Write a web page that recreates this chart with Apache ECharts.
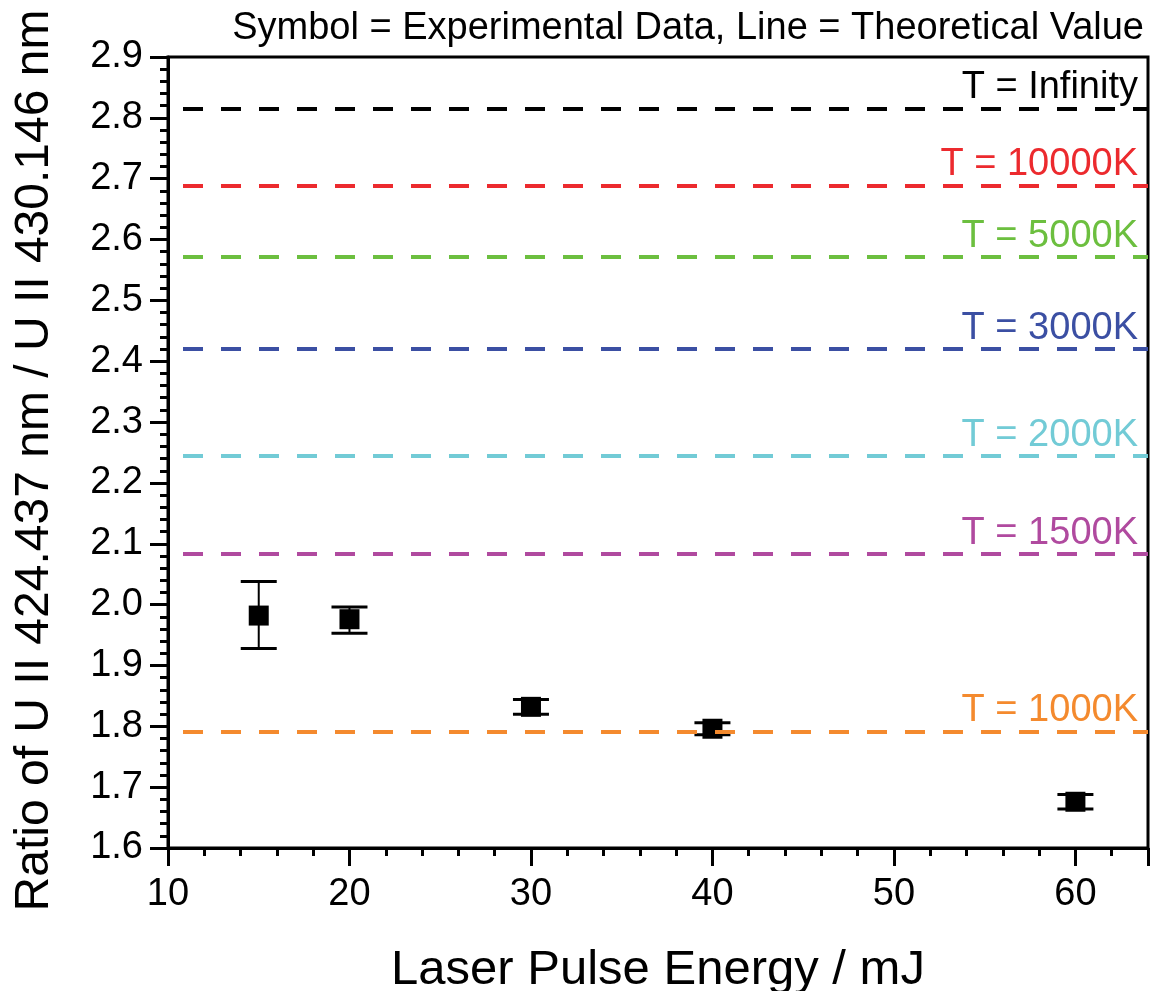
<!DOCTYPE html>
<html>
<head>
<meta charset="utf-8">
<script src="https://cdn.jsdelivr.net/npm/echarts@6/dist/echarts.min.js"></script>
<style>html,body{margin:0;padding:0;background:#fff;}#c{width:1150px;height:991px;}</style>
</head>
<body>
<div id="c"></div>
<script>
var energies = [15, 20, 30, 40, 60];
var ratio = [1.982, 1.976, 1.832, 1.796, 1.676];
var errLow = [1.928, 1.953, 1.820, 1.786, 1.664];
var errHigh = [2.038, 1.996, 1.844, 1.806, 1.688];

var theoryLabels = ['T = Infinity', 'T = 10000K', 'T = 5000K', 'T = 3000K', 'T = 2000K', 'T = 1500K', 'T = 1000K'];
var theoryValues = [2.815, 2.689, 2.571, 2.420, 2.244, 2.083, 1.791];
var theoryColors = ['#000000', '#ec2a2e', '#6cbf3f', '#3b4fa3', '#72cbd6', '#b04a9f', '#f48a2e'];

var titleText = 'Symbol = Experimental Data, Line = Theoretical Value';
var xName = 'Laser Pulse Energy / mJ';
var yName = 'Ratio of U II 424.437 nm / U II 430.146 nm';

var FONT = '"Liberation Sans", Arial, sans-serif';
var chart = echarts.init(document.getElementById('c'), null, {renderer: 'canvas'});

var points = energies.map(function (e, i) { return [e, ratio[i]]; });
var bars = energies.map(function (e, i) { return [e, errLow[i], errHigh[i]]; });

var markData = theoryValues.map(function (v, i) {
  return {
    yAxis: v,
    lineStyle: {color: theoryColors[i]},
    label: {formatter: theoryLabels[i], color: theoryColors[i]}
  };
});

chart.setOption({
  animation: false,
  backgroundColor: '#fff',
  title: {
    text: titleText,
    right: 1,
    top: 5,
    textStyle: {fontFamily: FONT, fontSize: 38, fontWeight: 'normal', color: '#000'}
  },
  grid: {left: 168, right: 2, top: 57, bottom: 143, outerBoundsMode: 'none', containLabel: false,
    show: true, borderColor: '#000', borderWidth: 3, backgroundColor: 'transparent'},
  xAxis: {
    type: 'value', min: 10, max: 64, interval: 10,
    name: xName, nameLocation: 'middle', nameGap: 98,
    nameTextStyle: {fontFamily: FONT, fontSize: 49, color: '#000'},
    axisLine: {show: true, onZero: false, lineStyle: {color: '#000', width: 3}},
    axisTick: {show: true, inside: false, length: 18, lineStyle: {color: '#000', width: 3}},
    minorTick: {show: true, splitNumber: 5, length: 8, lineStyle: {color: '#000', width: 3}},
    axisLabel: {fontFamily: FONT, fontSize: 38, color: '#000', margin: 28, showMaxLabel: false},
    splitLine: {show: false}
  },
  yAxis: {
    type: 'value', min: 1.6, max: 2.9, interval: 0.1,
    name: yName, nameLocation: 'middle', nameGap: 109, nameRotate: 90,
    nameTextStyle: {fontFamily: FONT, fontSize: 48, color: '#000', padding: [0, 16, 0, 0]},
    axisLine: {show: true, onZero: false, lineStyle: {color: '#000', width: 3}},
    axisTick: {show: true, inside: false, length: 18, lineStyle: {color: '#000', width: 3}},
    minorTick: {show: true, splitNumber: 5, length: 8, lineStyle: {color: '#000', width: 3}},
    axisLabel: {fontFamily: FONT, fontSize: 38, color: '#000', margin: 25,
      formatter: function (v) { return v.toFixed(1); }},
    splitLine: {show: false}
  },
  series: [
    {
      type: 'custom',
      name: 'err',
      silent: true,
      z: 3,
      data: bars,
      renderItem: function (params, api) {
        var x = api.value(0);
        var lo = api.coord([x, api.value(1)]);
        var hi = api.coord([x, api.value(2)]);
        var hw = 18;
        var st = {stroke: '#000', lineWidth: 3};
        return {
          type: 'group',
          children: [
            {type: 'line', shape: {x1: lo[0], y1: lo[1], x2: hi[0], y2: hi[1]}, style: {stroke: '#000', lineWidth: 2}},
            {type: 'line', shape: {x1: lo[0] - hw, y1: lo[1], x2: lo[0] + hw, y2: lo[1]}, style: st},
            {type: 'line', shape: {x1: hi[0] - hw, y1: hi[1], x2: hi[0] + hw, y2: hi[1]}, style: st}
          ]
        };
      },
      markLine: {
        silent: true,
        symbol: 'none',
        precision: 3,
        lineStyle: {type: [20, 18], dashOffset: 23, width: 4},
        label: {
          show: true, position: 'insideEndTop', distance: [10, 2],
          fontFamily: FONT, fontSize: 38
        },
        emphasis: {disabled: true},
        data: markData
      }
    },
    {
      type: 'scatter',
      name: 'data',
      z: 4,
      symbol: 'rect',
      symbolSize: 20,
      itemStyle: {color: '#000', opacity: 1},
      data: points
    }
  ]
});
</script>
</body>
</html>
